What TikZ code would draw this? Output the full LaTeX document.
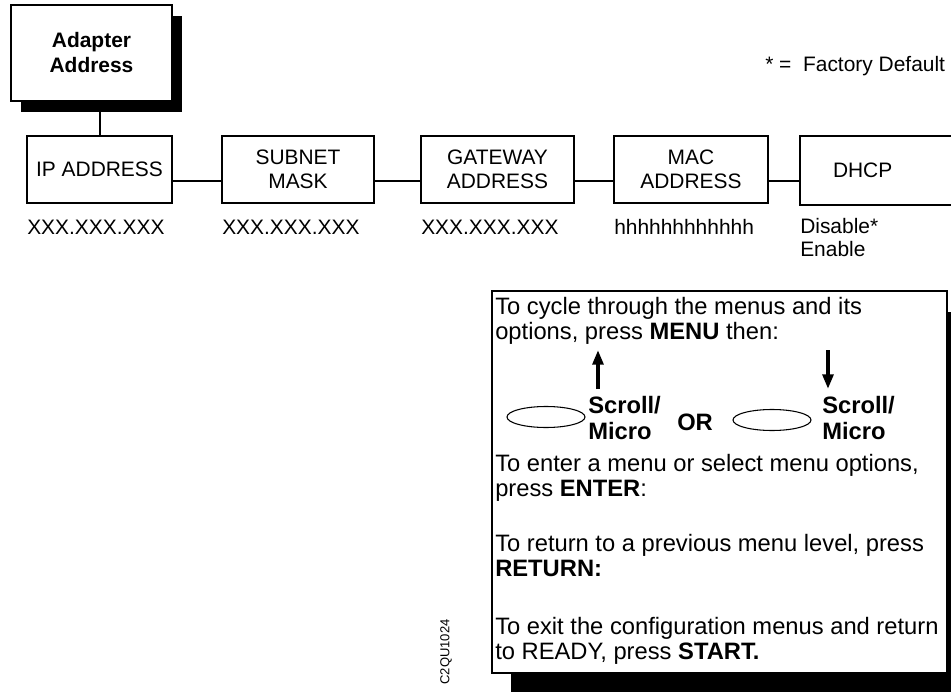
\documentclass[tikz,border=0pt]{standalone}
\usepackage{fontspec}
\setmainfont{Liberation Sans}
\usetikzlibrary{arrows.meta,shapes.geometric,shadows,positioning}

\tikzset{
  menubox/.style={draw, line width=1.5pt, minimum height=50.25pt, align=center, inner sep=0pt, font=\fontsize{15.7}{18}\selectfont},
  valtext/.style={anchor=base west, inner sep=0pt, align=left, font=\fontsize{15.7}{17.25}\selectfont},
  infotext/.style={anchor=base west, inner sep=0pt, align=left, font=\fontsize{17.8}{18.75}\selectfont},
  keytext/.style={anchor=base west, inner sep=0pt, align=left, font=\fontsize{17.8}{19.5}\selectfont\bfseries},
  knob/.style={draw, ellipse, line width=0.8pt, minimum width=58.5pt, minimum height=15.75pt, inner sep=0pt},
  link/.style={line width=1.5pt},
  keyarrow/.style={line width=3pt, -{Triangle[width=8pt,length=11pt]}}
}

\begin{document}
\begin{tikzpicture}[x=0.75pt,y=-0.75pt,line join=miter]
\useasboundingbox (0,0) rectangle (951,692);
\clip (0,0) rectangle (951,692);
% top menu
\node[menubox, minimum width=120.75pt, minimum height=72pt, fill=white,
  general shadow={fill=black,shadow xshift=7.5pt,shadow yshift=-8.25pt},
  font=\fontsize{15.7}{18.75}\selectfont\bfseries] (adapter) at (91.5,53) {Adapter\\Address};
\node[valtext] (default) at (765,72) {*~=~~Factory Default};
% submenus
\node[menubox, minimum width=108.75pt] (ip) at (99.5,169.5) {IP ADDRESS};
\node[menubox, minimum width=114pt] (subnet) at (298,169.5) {SUBNET\\MASK};
\node[menubox, minimum width=114.75pt] (gateway) at (497.5,169.5) {GATEWAY\\ADDRESS};
\node[menubox, minimum width=115.5pt] (mac) at (691,169.5) {MAC\\ADDRESS};
\node[menubox, minimum height=51.75pt, anchor=west, text width=120pt, align=left, inner xsep=24.75pt] (dhcp) at (799,170.5) {DHCP};
\draw[link] (ip.north) -- (ip.north |- adapter.south);
\foreach \a/\b in {ip/subnet,subnet/gateway,gateway/mac,mac/dhcp}
  \draw[link] ([yshift=-8.6pt]\a.east) -- ([yshift=-8.6pt]\a.east -| \b.west);
% values
\node[valtext] (ipval) at (27,234) {XXX.XXX.XXX};
\node[valtext] (subnetval) at (222,234) {XXX.XXX.XXX};
\node[valtext] (gatewayval) at (421,234) {XXX.XXX.XXX};
\node[valtext] (macval) at (614,234) {hhhhhhhhhhhh};
\node[valtext] (dhcpval) at (800,257) {Disable*\\Enable};
% key panel
\node[draw, line width=0.8pt, fill=white, minimum width=341.25pt, minimum height=286.5pt,
  general shadow={fill=black,shadow xshift=14.25pt,shadow yshift=-15.75pt}] (info) at (719.5,482) {};
\node[infotext] (cycletxt) at (495,339) {To cycle through the menus and its\\options, press \textbf{MENU} then:};
\node[knob] (knobup) at (546,417) {};
\node[keytext] (scrollup) at (588,439) {Scroll/\\Micro};
\node[keytext] (ortxt) at (677,430) {OR};
\node[knob] (knobdown) at (772,420) {};
\node[keytext] (scrolldown) at (822,439) {Scroll/\\Micro};
\coordinate (upbase) at (598,389);
\coordinate (uptip) at (598,350);
\coordinate (downbase) at (828,350);
\coordinate (downtip) at (828,389);
\draw[keyarrow] (upbase) -- (uptip);
\draw[keyarrow] (downbase) -- (downtip);
\node[infotext] (entertxt) at (495,496) {To enter a menu or select menu options,\\press \textbf{ENTER}:};
\node[infotext] (returntxt) at (495,576) {To return to a previous menu level, press\\\textbf{RETURN:}};
\node[infotext] (exittxt) at (495,659) {To exit the configuration menus and return\\to READY, press \textbf{START.}};
\node[rotate=90, inner sep=0pt, font=\fontsize{9.75}{10}\selectfont] (figid) at (446,652) {C2QU1024};
\end{tikzpicture}
\end{document}
